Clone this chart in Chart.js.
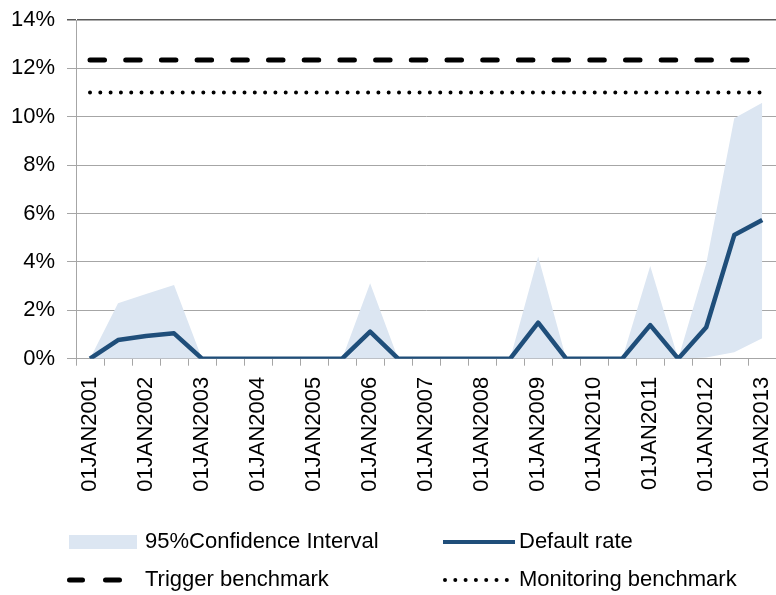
<!DOCTYPE html>
<html>
<head>
<meta charset="utf-8">
<script src="https://cdn.jsdelivr.net/npm/chart.js@4.4.0/dist/chart.umd.min.js"></script>
<style>
  html, body { margin: 0; padding: 0; background: #fff; overflow: hidden; }
  #wrap { width: 776px; height: 595px; overflow: hidden; }
</style>
</head>
<body>
<div id="wrap"><canvas id="rateChart" width="800" height="595"></canvas></div>
<script>
// half-year observation dates
const dates = [
    '01JAN2001', '01JUL2001', '01JAN2002', '01JUL2002', '01JAN2003', '01JUL2003',
    '01JAN2004', '01JUL2004', '01JAN2005', '01JUL2005', '01JAN2006', '01JUL2006',
    '01JAN2007', '01JUL2007', '01JAN2008', '01JUL2008', '01JAN2009', '01JUL2009',
    '01JAN2010', '01JUL2010', '01JAN2011', '01JUL2011', '01JAN2012', '01JUL2012',
    '01JAN2013'
];

// values in %
const defaultRate = [0, 0.77, 0.94, 1.05, 0, 0, 0, 0, 0, 0, 1.12, 0, 0, 0, 0, 0, 1.49, 0, 0, 0, 1.39, 0, 1.30, 5.11, 5.73];
const ciUpper = [0, 2.29, 2.67, 3.05, 0, 0, 0, 0, 0, 0, 3.12, 0, 0, 0, 0, 0, 4.22, 0, 0, 0, 3.83, 0, 3.94, 9.94, 10.58];
const ciLower = [0, 0, 0, 0, 0, 0, 0, 0, 0, 0, 0, 0, 0, 0, 0, 0, 0, 0, 0, 0, 0, 0, 0.05, 0.27, 0.85];
const triggerLevel = 12.35;
const monitoringLevel = 11;

const yTicks = [0, 2, 4, 6, 8, 10, 12, 14];

const FONT = "'Liberation Sans', Arial, sans-serif";
const gridGrey = '#a6a6a6';
const rateBlue = '#1f4e7a';
const ciFill = '#dce6f2';

const triggerLine = dates.map(() => triggerLevel);
const monitoringLine = dates.map(() => monitoringLevel);

// legend laid out in two columns under the axis labels
const legendPlugin = {
    id: 'twoColLegend',
    afterDraw(chart) {
        const ctx = chart.ctx;
        ctx.save();
        ctx.font = '22px ' + FONT;
        ctx.textBaseline = 'middle';

        const row1 = 542, row2 = 580;

        ctx.fillStyle = ciFill;
        ctx.fillRect(69, 535, 68, 14);

        ctx.strokeStyle = rateBlue;
        ctx.lineWidth = 4;
        ctx.beginPath();
        ctx.moveTo(443, row1);
        ctx.lineTo(515, row1);
        ctx.stroke();

        ctx.strokeStyle = '#000';
        ctx.lineWidth = 5;
        ctx.lineCap = 'round';
        ctx.beginPath();
        ctx.moveTo(69.5, row2); ctx.lineTo(82.5, row2);
        ctx.moveTo(105.5, row2); ctx.lineTo(119.5, row2);
        ctx.stroke();

        ctx.lineWidth = 4;
        ctx.setLineDash([0, 10.3]);
        ctx.beginPath();
        ctx.moveTo(445, row2);
        ctx.lineTo(509, row2);
        ctx.stroke();
        ctx.setLineDash([]);

        ctx.fillStyle = '#000';
        ctx.fillText('95%Confidence Interval', 145, row1);
        ctx.fillText('Default rate', 519, row1);
        ctx.fillText('Trigger benchmark', 145, row2);
        ctx.fillText('Monitoring benchmark', 519, row2);
        ctx.restore();
    }
};

const ctx = document.getElementById('rateChart').getContext('2d');
const rateChart = new Chart(ctx, {
    type: 'line',
    data: {
        labels: dates,
        datasets: [
            {
                label: '95%Confidence Interval',
                data: ciUpper,
                borderWidth: 0,
                borderColor: ciFill,
                backgroundColor: ciFill,
                pointRadius: 0,
                fill: '+1',
                order: 5
            },
            {
                label: 'ci lower',
                data: ciLower,
                borderWidth: 0,
                borderColor: ciFill,
                pointRadius: 0,
                fill: false,
                order: 6
            },
            {
                label: 'Default rate',
                data: defaultRate,
                borderColor: rateBlue,
                borderWidth: 4.5,
                borderJoinStyle: 'round',
                pointRadius: 0,
                fill: false,
                order: 1
            },
            {
                label: 'Trigger benchmark',
                data: triggerLine,
                borderColor: '#000',
                borderWidth: 5,
                borderDash: [14.5, 21.2],
                borderCapStyle: 'round',
                pointRadius: 0,
                fill: false,
                order: 2
            },
            {
                label: 'Monitoring benchmark',
                data: monitoringLine,
                borderColor: '#000',
                borderWidth: 4,
                borderDash: [0, 10.3],
                borderCapStyle: 'round',
                pointRadius: 0,
                fill: false,
                order: 3
            }
        ]
    },
    options: {
        responsive: false,
        devicePixelRatio: 1,
        animation: false,
        layout: {
            padding: { top: 20, right: 16.7, left: 0, bottom: 0 }
        },
        plugins: {
            legend: { display: false },
            tooltip: { enabled: false }
        },
        scales: {
            x: {
                type: 'category',
                offset: true,
                grid: {
                    offset: true,
                    drawOnChartArea: false,
                    tickLength: 7,
                    color: gridGrey
                },
                border: { color: gridGrey },
                ticks: {
                    autoSkip: false,
                    maxRotation: 90,
                    minRotation: 90,
                    padding: 11,
                    color: '#000',
                    font: { size: 22, family: FONT },
                    callback: (value, index) => index % 2 === 0 ? dates[index] : ''
                },
                afterFit: (scale) => { scale.height = 236.3; }
            },
            y: {
                min: 0,
                max: 14,
                afterBuildTicks: (scale) => {
                    scale.ticks = yTicks.map(v => ({ value: v }));
                },
                grid: {
                    tickLength: 9,
                    color: (c) => c.tick && c.tick.value === 14 ? '#5a5a5a' : gridGrey,
                    lineWidth: (c) => c.tick && c.tick.value === 14 ? 1.5 : 1
                },
                border: { color: gridGrey },
                ticks: {
                    padding: 12,
                    color: '#000',
                    font: { size: 22, family: FONT, lineHeight: 1 },
                    callback: (value) => value + '%'
                },
                afterFit: (scale) => {
                    scale.width = 76;
                    scale.paddingTop = 0;
                }
            }
        }
    },
    plugins: [legendPlugin]
});
</script>
</body>
</html>
